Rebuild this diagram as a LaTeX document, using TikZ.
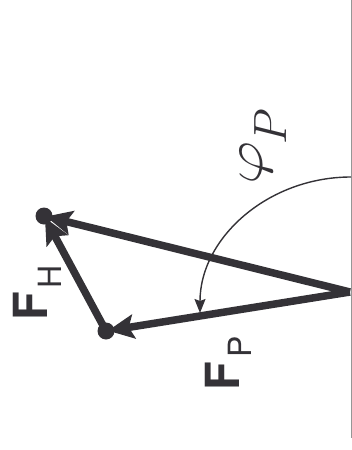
\documentclass[tikz,border=0pt]{standalone}
\usepackage{graphicx}
\usepackage{fontspec}
\setsansfont{TeX Gyre Heros}
\usetikzlibrary{arrows.meta}
\definecolor{ink}{RGB}{52,50,55}
\definecolor{rule}{RGB}{150,150,150}
\begin{document}
\begin{tikzpicture}[x=1pt,y=-1pt,
  vec/.style={draw=ink, line width=7.5pt,
    -{Stealth[length=26pt,width=24pt,inset=5pt]}, shorten >=2pt},
  dotnode/.style={circle, fill=ink, inner sep=0pt, minimum size=17pt},
  anglearc/.style={draw=ink, line width=1.4pt,
    -{Stealth[length=14pt,width=11pt,inset=2pt]}},
  flabel/.style={rotate=90, inner sep=0pt, text=ink, font=\sffamily}]
\useasboundingbox (0,0) rectangle (352,450);
\coordinate (top) at (351,0);
\coordinate (bot) at (351,438);
\draw[rule, line width=1pt] (top) -- (bot);
\coordinate (O) at (350,292);
\node[dotnode] (P) at (106,331) {};
\node[dotnode] (H) at (44,216) {};
\draw[vec] (O) -- (P.center);
\draw[vec] (P.center) -- (H.center);
\draw[vec] (O) -- (H.center);
\coordinate (a0) at (351,177);
\coordinate (a1) at (200,313);
\draw[anglearc] (a0) .. controls (268,177) and (200,238) .. (a1);
\node[rotate=90, text=ink, inner sep=0pt] (phi) at (263,147) {\scalebox{2.7}[2.1]{\Huge$\varphi$}\kern-3pt\raisebox{-24.5pt}{\scalebox{2.25}{\huge$P$}}};
\node[flabel] (lh) at (37,293) {{\fontsize{47}{50}\selectfont\bfseries F}\kern4pt\raisebox{-14pt}{\fontsize{32}{34}\selectfont H}};
\node[flabel] (lp) at (228,363) {{\fontsize{47}{50}\selectfont\bfseries F}\kern4pt\raisebox{-12pt}{\fontsize{32}{34}\selectfont P}};
\end{tikzpicture}
\end{document}
